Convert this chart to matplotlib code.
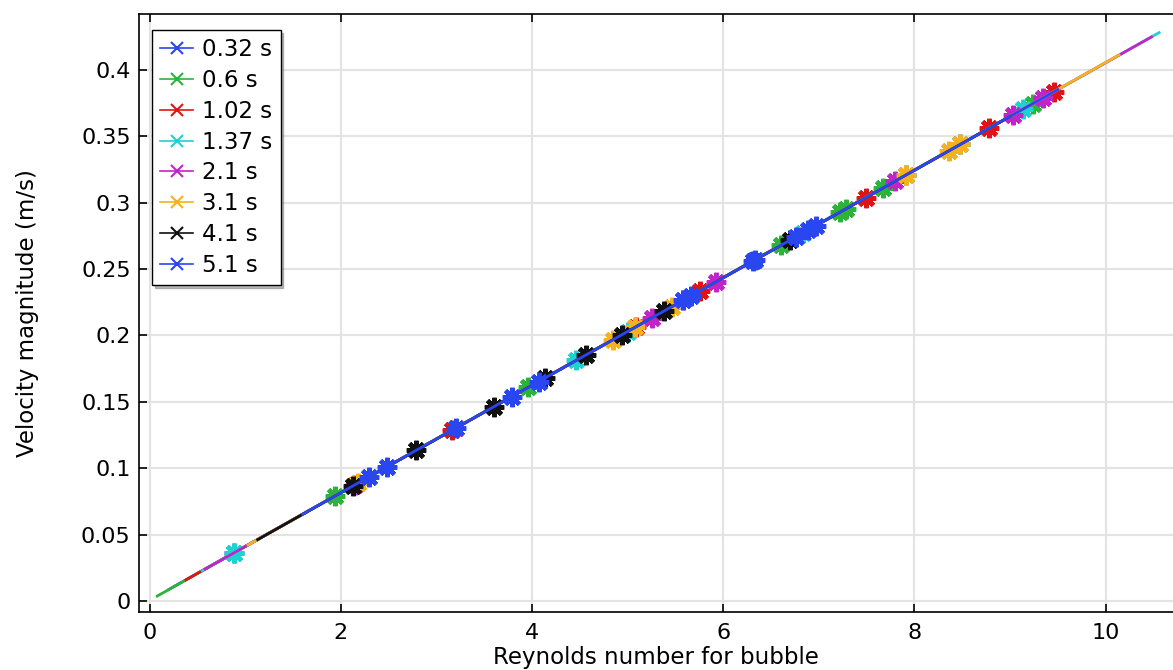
import matplotlib.pyplot as plt
from matplotlib.lines import Line2D

# series labels and colours
labels = ["0.32 s", "0.6 s", "1.02 s", "1.37 s", "2.1 s", "3.1 s", "4.1 s", "5.1 s"]
colors = ["#2a46f0", "#2bb33a", "#e01414", "#1ed2d2", "#c224c8", "#f5b21e", "#111111", "#2a46f0"]

# Reynolds number (first and last point = ends of the line, the rest carry markers)
re_032 = [0.20, 0.88, 6.33, 8.90]
re_06 = [0.08, 1.94, 3.96, 6.60, 7.22, 7.28, 7.67, 7.91, 8.48, 9.24, 9.30]
re_102 = [0.38, 3.16, 5.09, 5.76, 7.49, 8.78, 9.46, 9.47]
re_137 = [0.55, 0.88, 4.46, 5.00, 6.83, 7.91, 8.48, 9.14, 10.56]
re_21 = [0.58, 2.15, 5.25, 5.58, 5.92, 7.80, 9.03, 9.34, 10.48]
re_31 = [1.03, 2.18, 4.85, 5.08, 5.46, 7.91, 8.36, 8.48, 10.14]
re_41 = [1.13, 2.13, 2.79, 3.60, 4.14, 4.56, 4.94, 5.38, 6.70, 9.00]
re_51 = [1.60, 2.30, 2.48, 3.21, 3.79, 4.07, 5.58, 5.66, 6.31, 6.76, 6.89, 6.97, 9.50]

# velocity magnitude (m/s)
u_032 = [0.0086, 0.0362, 0.2570, 0.3610]
u_06 = [0.0037, 0.0791, 0.1610, 0.2680, 0.2930, 0.2955, 0.3112, 0.3210, 0.3440, 0.3747, 0.3772]
u_102 = [0.0159, 0.1285, 0.2067, 0.2338, 0.3038, 0.3561, 0.3836, 0.3840]
u_137 = [0.0228, 0.0362, 0.1812, 0.2030, 0.2772, 0.3210, 0.3440, 0.3707, 0.4282]
u_21 = [0.0240, 0.0876, 0.2131, 0.2265, 0.2403, 0.3164, 0.3662, 0.3788, 0.4249]
u_31 = [0.0422, 0.0888, 0.1969, 0.2062, 0.2216, 0.3210, 0.3391, 0.3440, 0.4113]
u_41 = [0.0462, 0.0868, 0.1134, 0.1463, 0.1682, 0.1852, 0.2006, 0.2184, 0.2718, 0.3650]
u_51 = [0.0653, 0.0937, 0.1010, 0.1305, 0.1540, 0.1653, 0.2265, 0.2297, 0.2560, 0.2743, 0.2795, 0.2828, 0.3853]

re_all = [re_032, re_06, re_102, re_137, re_21, re_31, re_41, re_51]
u_all = [u_032, u_06, u_102, u_137, u_21, u_31, u_41, u_51]

fig = plt.figure(figsize=(11.73, 6.70), dpi=100)
ax = fig.add_axes([0.1185, 0.0866, 0.8815, 0.8925])

for xs, ys, c in zip(re_all, u_all, colors):
    ax.plot(xs, ys, color=c, lw=2.0, marker=(8, 2, 0), markersize=14,
            markeredgewidth=3.2, markevery=list(range(1, len(xs) - 1)), zorder=3)

ax.set_xlim(-0.111, 10.705)
ax.set_ylim(-0.0083, 0.4422)
ax.set_xticks([0, 2, 4, 6, 8, 10])
ax.set_yticks([0, 0.05, 0.1, 0.15, 0.2, 0.25, 0.3, 0.35, 0.4])
ax.set_yticklabels(["0", "0.05", "0.1", "0.15", "0.2", "0.25", "0.3", "0.35", "0.4"])
ax.tick_params(direction="in", length=6, width=1.2, labelsize=16, top=True)
ax.tick_params(axis="y", pad=6)
ax.tick_params(axis="x", pad=8)
ax.grid(color="#e3e3e3", lw=1.5, zorder=0)
ax.set_axisbelow(True)
ax.spines["right"].set_visible(False)
for s in ["left", "bottom", "top"]:
    ax.spines[s].set_linewidth(1.2)

ax.set_xlabel("Reynolds number for bubble", fontsize=16.5, labelpad=2)
ax.set_ylabel("Velocity magnitude (m/s)", fontsize=16.5, labelpad=30)

handles = [Line2D([], [], color=c, lw=1.2, marker="x", markersize=8, markeredgewidth=1.5)
           for c in colors]
leg = ax.legend(handles, labels, loc="upper left", fontsize=16.5, frameon=True,
                fancybox=False, shadow={"color": "#777777"}, handlelength=1.45,
                handletextpad=0.4, labelspacing=0.34, borderpad=0.35,
                borderaxespad=0, bbox_to_anchor=(0.0126, 0.973))
leg.get_frame().set_edgecolor("black")
leg.get_frame().set_linewidth(1.0)

fig.savefig("out.png", dpi=100)
